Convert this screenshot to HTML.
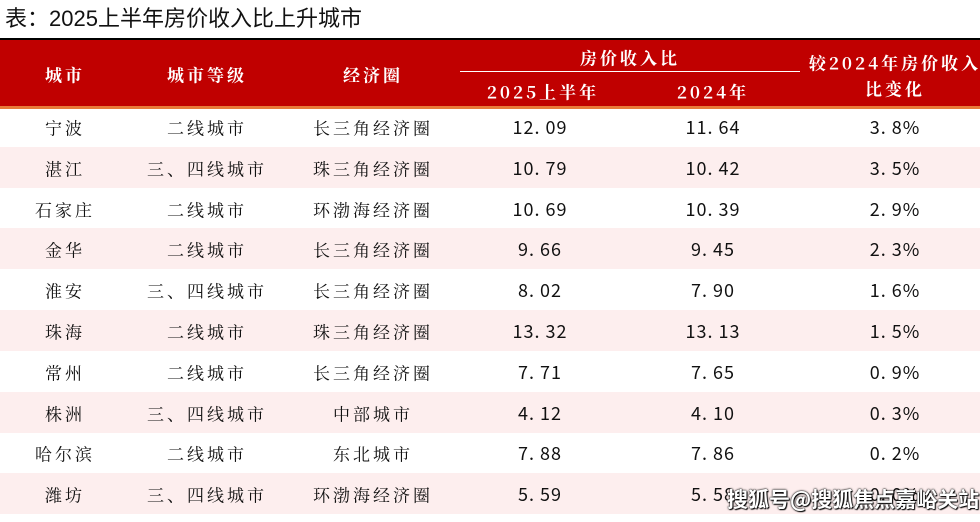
<!DOCTYPE html>
<html><head><meta charset="utf-8"><style>
body{margin:0;width:980px;height:522px;background:#fff;position:relative;overflow:hidden;font-family:"Liberation Sans","Noto Serif CJK SC",serif;}
.t{position:absolute;white-space:nowrap;transform:translate(-50%,-50%);}
.title{position:absolute;left:5px;top:1px;font-size:22px;font-family:"Liberation Sans","Noto Sans CJK SC",sans-serif;color:#111;}
.hdr{position:absolute;left:0;top:38px;width:980px;height:66px;background:#c00000;border-top:2px solid #000;border-bottom:3px solid #e87a3a;}
.h{color:#fff;font-weight:bold;font-size:17px;font-family:"Noto Serif CJK SC",serif;letter-spacing:3px;}
.row{position:absolute;left:0;width:980px;height:41px;}
.p{background:#fdeeee;}
.c{font-size:17px;color:#111;font-family:"Noto Serif CJK SC",serif;letter-spacing:3px;}
.n{font-size:18px;color:#111;font-family:"Noto Sans CJK SC",sans-serif;letter-spacing:1px;}
.wm{position:absolute;left:727px;top:484px;font-size:21px;font-weight:bold;color:#fff;font-family:"Noto Sans CJK SC",sans-serif;text-shadow:0 0 2px #000,0 0 1px #000,1px 1px 1px #000;}
</style></head><body>
<div class="title">表：2025上半年房价收入比上升城市</div>
<div class="hdr"></div>
<div style="position:absolute;left:460px;top:71px;width:340px;height:1px;background:#fff"></div>
<div class="t h" style="left:65px;top:74px">城市</div>
<div class="t h" style="left:207px;top:74px">城市等级</div>
<div class="t h" style="left:373px;top:74px">经济圈</div>
<div class="t h" style="left:630px;top:57px">房价收入比</div>
<div class="t h" style="left:543px;top:91px">2025上半年</div>
<div class="t h" style="left:713px;top:91px">2024年</div>
<div class="t h" style="left:895px;top:62px">较2024年房价收入</div>
<div class="t h" style="left:895px;top:88px">比变化</div>
<div id="rows"></div>
<script>
var d=[["宁波","二线城市","长三角经济圈","12.09","11.64","3.8%"],["湛江","三、四线城市","珠三角经济圈","10.79","10.42","3.5%"],["石家庄","二线城市","环渤海经济圈","10.69","10.39","2.9%"],["金华","二线城市","长三角经济圈","9.66","9.45","2.3%"],["淮安","三、四线城市","长三角经济圈","8.02","7.90","1.6%"],["珠海","二线城市","珠三角经济圈","13.32","13.13","1.5%"],["常州","二线城市","长三角经济圈","7.71","7.65","0.9%"],["株洲","三、四线城市","中部城市","4.12","4.10","0.3%"],["哈尔滨","二线城市","东北城市","7.88","7.86","0.2%"],["潍坊","三、四线城市","环渤海经济圈","5.59","5.58","0.0%"]];
var h="";var xs=[65,207,373,540,713,895];
d.forEach(function(r,i){var top=106+i*40.8;h+='<div class="row'+(i%2?' p':'')+'" style="top:'+top+'px"></div>';
r.forEach(function(v,j){h+='<div class="t '+(j<3?'c':'n')+'" style="left:'+xs[j]+'px;top:'+(top+21)+'px">'+v.replace(".",". ")+'</div>';});});
document.getElementById("rows").innerHTML=h;
</script>
<div class="wm">搜狐号@搜狐焦点嘉峪关站</div>
</body></html>
